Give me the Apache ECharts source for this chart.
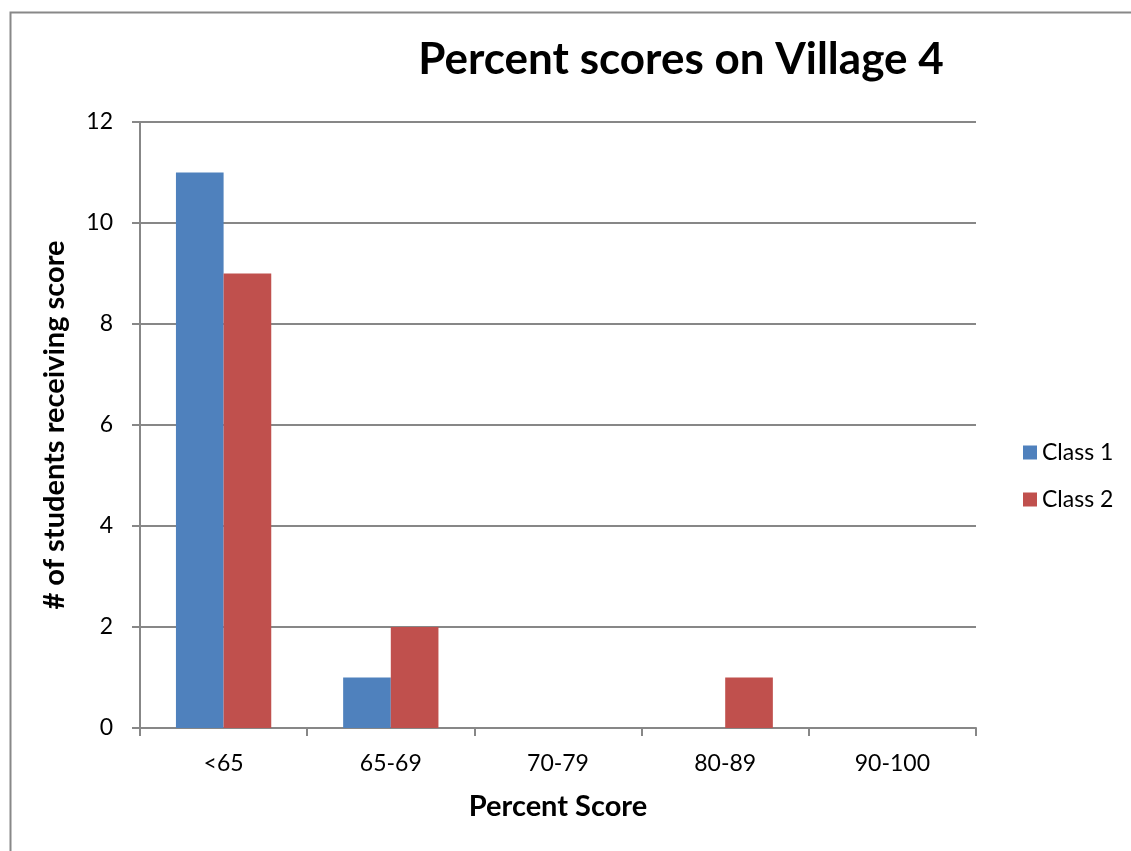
<!DOCTYPE html>
<html>
<head>
<meta charset="utf-8">
<script src="https://cdn.jsdelivr.net/npm/echarts@6/dist/echarts.min.js"></script>
<style>
html,body{margin:0;padding:0;background:#fff;}
#chart{width:1131px;height:851px;}
</style>
</head>
<body>
<div id="chart"></div>
<script>
var categories = ['<65', '65-69', '70-79', '80-89', '90-100'];
var class1 = [11, 1, 0, 0, 0];
var class2 = [9, 2, 0, 1, 0];
var seriesNames = ['Class 1', 'Class 2'];
var yTicks = [0, 2, 4, 6, 8, 10, 12];

var FONT = 'Lato';
var chart = echarts.init(document.getElementById('chart'), null, {renderer: 'canvas'});
var option = {
  backgroundColor: '#ffffff',
  animation: false,
  title: {
    text: 'Percent scores on Village 4',
    left: 676, top: 33, textAlign: 'center',
    textStyle: {fontFamily: FONT, fontWeight: 'bold', fontSize: 44, color: '#000'}
  },
  graphic: [{
    type: 'rect', left: 8, top: 10, silent: true,
    shape: {width: 1140, height: 860},
    style: {fill: 'none', stroke: '#888888', lineWidth: 2}
  }],
  legend: {
    orient: 'vertical', left: 1018, top: 436,
    itemWidth: 14, itemHeight: 14, itemGap: 24,
    icon: 'rect',
    textStyle: {fontFamily: FONT, fontSize: 23, color: '#000', padding: [0, 0, 0, 0]},
    data: seriesNames
  },
  grid: {left: 140, right: 155, top: 122, bottom: 123, containLabel: false},
  xAxis: {
    type: 'category', data: categories,
    name: 'Percent Score', nameLocation: 'middle', nameGap: 64,
    nameTextStyle: {fontFamily: FONT, fontWeight: 'bold', fontSize: 29, color: '#000'},
    axisLine: {lineStyle: {color: '#878787', width: 2}},
    axisTick: {show: true, length: 8, alignWithLabel: false, lineStyle: {color: '#878787', width: 2}},
    axisLabel: {fontFamily: FONT, fontSize: 23, color: '#000', margin: 24}
  },
  yAxis: {
    type: 'value', min: 0, max: 12, interval: 2,
    name: '# of students receiving score', nameLocation: 'middle', nameGap: 71,
    nameTextStyle: {fontFamily: FONT, fontWeight: 'bold', fontSize: 29, color: '#000'},
    axisLine: {show: true, lineStyle: {color: '#878787', width: 2}},
    axisTick: {show: true, length: 8, lineStyle: {color: '#878787', width: 2}},
    axisLabel: {fontFamily: FONT, fontSize: 23, color: '#000', margin: 27,
      formatter: function (v) { return yTicks.indexOf(v) >= 0 ? String(v) : ''; }},
    splitLine: {show: true, lineStyle: {color: '#878787', width: 2}}
  },
  series: [
    {name: seriesNames[0], type: 'bar', data: class1, barGap: '0%', barCategoryGap: '43%',
     itemStyle: {color: '#4F81BD'}},
    {name: seriesNames[1], type: 'bar', data: class2, barGap: '0%', barCategoryGap: '43%',
     itemStyle: {color: '#C0504D'}}
  ]
};
chart.setOption(option);
</script>
</body>
</html>
